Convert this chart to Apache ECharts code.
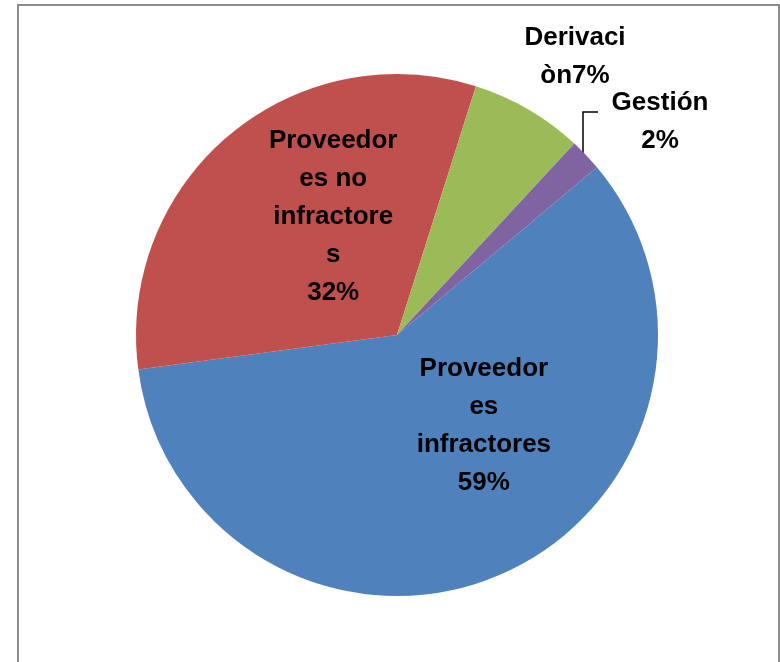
<!DOCTYPE html>
<html>
<head>
    <meta charset="utf-8">
    <title>Proveedores</title>
    <script src="https://cdn.jsdelivr.net/npm/echarts@6/dist/echarts.min.js"></script>
</head>
<body style="margin:0;background:#fff;">
    <div id="main" style="width:780px;height:662px;"></div>
    <script type="text/javascript">
        // datos en el orden en que se dibujan (sentido horario)
        var categories = ['Proveedores infractores', 'Proveedores no infractores', 'Derivaciòn', 'Gestión'];
        var values = [59, 32, 7, 2];
        var labelTexts = ['Proveedor\nes\ninfractores', 'Proveedor\nes no\ninfractore\ns', 'Derivaci\nòn', 'Gestión'];
        var colors = ['#4F81BD', '#C0504D', '#9BBB59', '#8064A2'];

        var myChart = echarts.init(document.getElementById('main'));

        var datalist = [];
        for (var i = 0; i < categories.length; i++) {
            datalist.push({ name: categories[i], value: values[i] });
        }
        // las dos etiquetas pequeñas van fuera del sector
        datalist[2].label = { position: 'outside' };
        datalist[2].labelLine = { show: false };
        datalist[3].label = { position: 'outside' };
        datalist[3].labelLine = { show: true, lineStyle: { color: '#000', width: 1.5 } };

        var labelMove = [
            { dx: 33, dy: -31 },
            { dx: 22, dy: -16 },
            { x: 575, y: 57 },
            { x: 660, y: 122, line: [[583, 156], [583, 112], [598, 112]] }
        ];

        var option = {
            animation: false,
            color: colors,
            graphic: [{
                type: 'rect',
                shape: { x: 18, y: 5, width: 761, height: 700 },
                style: { fill: 'none', stroke: '#8c8c8c', lineWidth: 2 },
                silent: true
            }],
            series: [{
                type: 'pie',
                center: [397, 335],
                radius: 261,
                startAngle: 40,
                clockwise: true,
                itemStyle: { borderWidth: 0 },
                label: {
                    show: true,
                    position: 'inside',
                    color: '#000',
                    fontFamily: 'Liberation Sans',
                    fontWeight: 'bold',
                    fontSize: 26,
                    lineHeight: 38,
                    align: 'center',
                    formatter: function (p) {
                        var t = labelTexts[p.dataIndex];
                        if (p.dataIndex === 2) return t + p.value + '%';
                        return t + '\n' + p.value + '%';
                    }
                },
                labelLayout: function (p) {
                    var m = labelMove[p.dataIndex];
                    if (m.x !== undefined) {
                        var r = { x: m.x, y: m.y, align: 'center', verticalAlign: 'middle' };
                        if (m.line) r.labelLinePoints = m.line;
                        return r;
                    }
                    return { dx: m.dx, dy: m.dy };
                },
                data: datalist
            }]
        };

        myChart.setOption(option);
    </script>
</body>
</html>
